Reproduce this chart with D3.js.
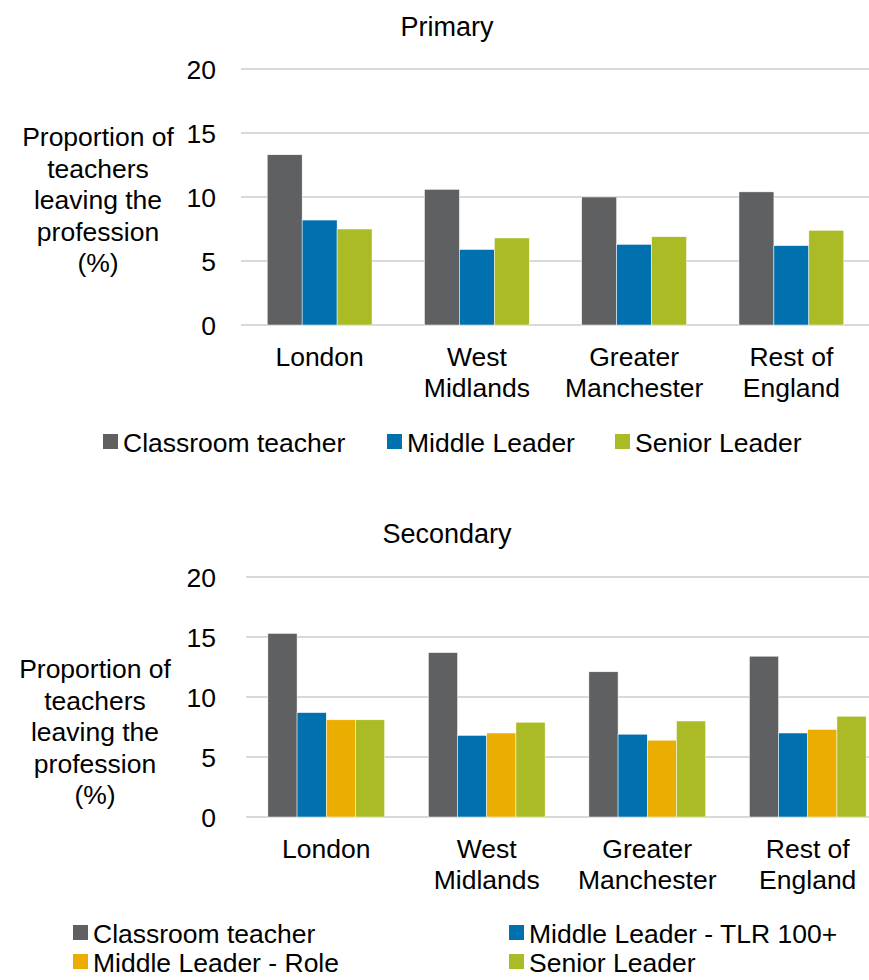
<!DOCTYPE html>
<html>
<head>
<meta charset="utf-8">
<script src="https://cdn.jsdelivr.net/npm/d3@7"></script>
<style>
  body { margin: 0; background: #fff; }
  text { font-family: "Liberation Sans", Arial, sans-serif; fill: #000; }
</style>
</head>
<body>
<div id="chart"></div>
<script>
// values (%)
const regions = ["London", "West Midlands", "Greater Manchester", "Rest of England"];
const regionLines = [["London"], ["West", "Midlands"], ["Greater", "Manchester"], ["Rest of", "England"]];
const yTicks = [0, 5, 10, 15, 20];

const primaryClassroom = [13.3, 10.6, 10.0, 10.4];
const primaryMiddle = [8.2, 5.9, 6.3, 6.2];
const primarySenior = [7.5, 6.8, 6.9, 7.4];

const secondaryClassroom = [15.3, 13.7, 12.1, 13.4];
const secondaryTLR = [8.7, 6.8, 6.9, 7.0];
const secondaryRole = [8.1, 7.0, 6.4, 7.3];
const secondarySenior = [8.1, 7.9, 8.0, 8.4];

const titleLines = ["Proportion of", "teachers", "leaving the", "profession", "(%)"];

const colors = {
  grey: "#5f6062",
  blue: "#0071ae",
  amber: "#ebae00",
  green: "#abbb25"
};

const width = 869, height = 980;
const fontSize = 26.5;

const svg = d3.select("#chart").append("svg")
  .attr("width", width)
  .attr("height", height);

function drawChart(opt) {
  const g = svg.append("g");

  const x = d3.scaleBand()
    .domain(regions)
    .range([opt.left, opt.right])
    .padding(0);

  const y = d3.scaleLinear()
    .domain([0, 20])
    .range([opt.bottom, opt.top]);

  // excel style gap width 150%
  const barW = x.bandwidth() / (opt.series.length + 1.5);
  const sub = d3.scaleBand()
    .domain(opt.series.map(s => s.name))
    .range([0, barW * opt.series.length]);
  const groupOffset = barW * 0.75;

  // gridlines
  g.selectAll(".grid")
    .data(yTicks)
    .enter()
    .append("line")
    .attr("x1", opt.left)
    .attr("x2", opt.right)
    .attr("y1", d => y(d))
    .attr("y2", d => y(d))
    .attr("stroke", "#d9d9d9")
    .attr("stroke-width", 2);

  // tick labels
  g.selectAll(".tick")
    .data(yTicks)
    .enter()
    .append("text")
    .attr("x", 216)
    .attr("y", d => y(d))
    .attr("dy", "0.36em")
    .attr("text-anchor", "end")
    .style("font-size", fontSize + "px")
    .text(d => d);

  // bars
  opt.series.forEach(s => {
    g.selectAll(null)
      .data(s.values)
      .enter()
      .append("rect")
      .attr("x", (d, i) => x(regions[i]) + groupOffset + sub(s.name))
      .attr("y", d => y(d))
      .attr("width", sub.bandwidth())
      .attr("height", d => y(0) - y(d))
      .attr("fill", s.color)
      .attr("stroke", "#fff")
      .attr("stroke-width", 0.5);
  });

  // category labels
  regions.forEach((r, i) => {
    const t = g.append("text")
      .attr("x", x(r) + x.bandwidth() / 2)
      .attr("y", opt.bottom + 41)
      .attr("text-anchor", "middle")
      .style("font-size", fontSize + "px");
    regionLines[i].forEach((line, j) => {
      t.append("tspan")
        .attr("x", x(r) + x.bandwidth() / 2)
        .attr("dy", j === 0 ? 0 : 31)
        .text(line);
    });
  });

  // title
  g.append("text")
    .attr("x", 447)
    .attr("y", opt.titleY)
    .attr("text-anchor", "middle")
    .style("font-size", (fontSize + 0.5) + "px")
    .text(opt.title);

  // y axis title
  const yt = g.append("text")
    .attr("x", opt.ytX)
    .attr("y", opt.ytY)
    .attr("text-anchor", "middle")
    .style("font-size", fontSize + "px");
  titleLines.forEach((line, j) => {
    yt.append("tspan")
      .attr("x", opt.ytX)
      .attr("dy", j === 0 ? 0 : 31.5)
      .text(line);
  });

  // legend
  const lg = g.selectAll(".legend")
    .data(opt.series)
    .enter()
    .append("g")
    .attr("transform", (d, i) => "translate(" + opt.legendPos[i][0] + "," + opt.legendPos[i][1] + ")");
  lg.append("rect")
    .attr("x", 0)
    .attr("y", -8)
    .attr("width", 15)
    .attr("height", 15)
    .attr("fill", d => d.color);
  lg.append("text")
    .attr("x", 20)
    .attr("y", 0)
    .attr("dy", "0.36em")
    .style("font-size", fontSize + "px")
    .text(d => d.name);
}

drawChart({
  title: "Primary",
  titleY: 36,
  left: 241, right: 870,
  top: 69, bottom: 325,
  ytX: 98, ytY: 146,
  series: [
    { name: "Classroom teacher", values: primaryClassroom, color: colors.grey },
    { name: "Middle Leader", values: primaryMiddle, color: colors.blue },
    { name: "Senior Leader", values: primarySenior, color: colors.green }
  ],
  legendPos: [[103, 442], [387, 442], [615, 442]]
});

drawChart({
  title: "Secondary",
  titleY: 543,
  left: 246, right: 888,
  top: 577, bottom: 817,
  ytX: 95, ytY: 678,
  series: [
    { name: "Classroom teacher", values: secondaryClassroom, color: colors.grey },
    { name: "Middle Leader - TLR 100+", values: secondaryTLR, color: colors.blue },
    { name: "Middle Leader - Role", values: secondaryRole, color: colors.amber },
    { name: "Senior Leader", values: secondarySenior, color: colors.green }
  ],
  legendPos: [[73, 933], [509, 933], [73, 962], [509, 962]]
});
</script>
</body>
</html>
